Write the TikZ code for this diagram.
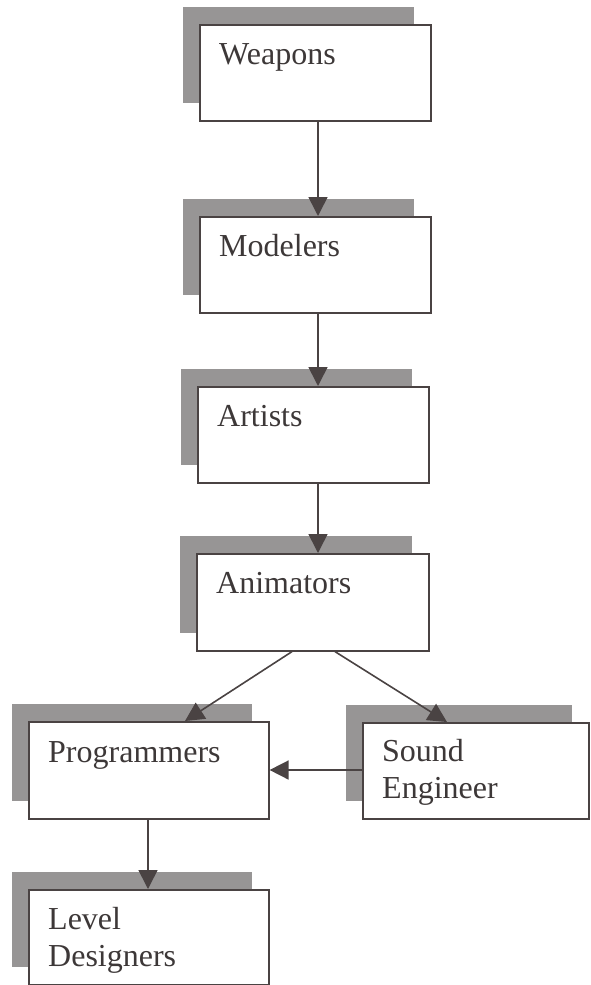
\documentclass[tikz,border=0pt]{standalone}
\usepackage{fontspec}
\setmainfont{Liberation Serif}
\usetikzlibrary{arrows.meta}
\definecolor{ink}{HTML}{4A4343}
\definecolor{txt}{HTML}{3D3838}
\definecolor{shadowgrey}{HTML}{979595}
% shadowed box: name, x, y (top left), width, height, text, baseline of last text line
\newcommand{\shadowbox}[7]{%
  \fill[shadowgrey] (#2-16,#3-17) rectangle ++(#4,#5);
  \node[box, minimum width=#4 pt, minimum height=#5 pt] (#1) at (#2,#3) {};
  \node[lbl] (#1-t) at (#2+20,#3+#7) {#6};
}
\begin{document}
\begin{tikzpicture}[x=1pt,y=-1pt,
  box/.style={draw=ink, line width=1.6pt, fill=white, rectangle, anchor=north west, inner sep=0pt},
  lbl/.style={anchor=base west, inner sep=0pt, text=txt, align=left,
              font=\fontsize{32}{37}\selectfont},
  link/.style={draw=ink, line width=1.6pt, -{Triangle[length=19pt,width=19pt]}}]
\useasboundingbox (0,0) rectangle (590,985);

\shadowbox{weap}{199}{24}{231}{96}{Weapons}{40}
\shadowbox{mod}{199}{216}{231}{96}{Modelers}{40}
\shadowbox{art}{197}{386}{231}{96}{Artists}{40}
\shadowbox{anim}{196}{553}{232}{97}{Animators}{40}
\shadowbox{prog}{28}{721}{240}{97}{Programmers}{41}
\shadowbox{snd}{362}{722}{226}{96}{Sound\\Engineer}{76}
\shadowbox{lvl}{28}{889}{240}{95}{Level\\Designers}{77}

\draw[link] ([xshift=119pt]weap.south west) -- ([xshift=119pt]mod.north west);
\draw[link] ([xshift=119pt]mod.south west) -- ([xshift=119pt]mod.south west |- art.north);
\draw[link] ([xshift=121pt]art.south west) -- ([xshift=121pt]art.south west |- anim.north);
\draw[link] ([xshift=96pt]anim.south west) -- ([xshift=157pt]prog.north west);
\draw[link] ([xshift=139pt]anim.south west) -- ([xshift=85pt]snd.north west);
\draw[link] (snd.west |- 0,770) -- (prog.east |- 0,770);
\draw[link] ([xshift=120pt]prog.south west) -- ([xshift=120pt]lvl.north west);
\end{tikzpicture}
\end{document}
